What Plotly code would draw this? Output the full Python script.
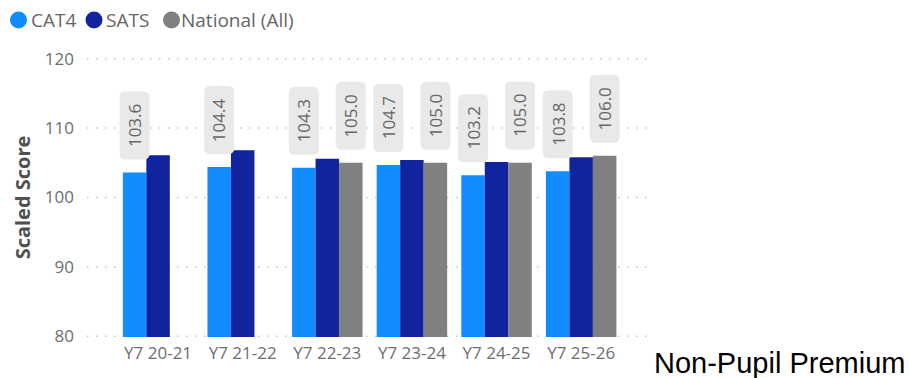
import plotly.graph_objects as go

categories = ["Y7 20-21", "Y7 21-22", "Y7 22-23", "Y7 23-24", "Y7 24-25", "Y7 25-26"]
cat4 = [103.6, 104.4, 104.3, 104.7, 103.2, 103.8]
sats = [106.1, 106.8, 105.6, 105.4, 105.1, 105.8]
national = [None, None, 105.0, 105.0, 105.0, 106.0]
y_ticks = [80, 90, 100, 110, 120]

series_names = ["CAT4", "SATS", "National (All)"]
colors = ["#118DFF", "#12239E", "#808080"]

FONT = "Segoe UI, Open Sans, sans-serif"
W, H = 909, 378
L, R, T, B = 87, 261, 58, 41
PW, PH = W - L - R, H - T - B
XR = [-0.84, 5.79]
YR = [79.9, 120.1]
BARGAP = 0.167

def px_x(px):
    return (px - L) / PW

def px_y(py):
    return (H - B - py) / PH

fig = go.Figure()
for name, vals, col in zip(series_names, [cat4, sats, national], colors):
    fig.add_trace(go.Bar(x=categories, y=vals, name=name, marker_color=col,
                         marker_line_width=0, showlegend=False, hoverinfo="skip"))

annotations = []
shapes = []

# dotted gridlines (including the edge values 80 and 120)
for t in y_ticks:
    shapes.append(dict(type="line", xref="paper", yref="y", x0=0, x1=1, y0=t, y1=t,
                       line=dict(color="#C4C4C4", width=1.5, dash="1.5px,7.5px"),
                       layer="below"))

# data labels (CAT4 and National) in rounded grey boxes
cat_px = PW / (XR[1] - XR[0])
bar_px = cat_px * (1 - BARGAP) / 3
BW, BH, RAD, GAP = 30, 68, 6, 13

def rounded_path(cx):
    x0, x1 = cx - BW / 2, cx + BW / 2
    y0, y1 = GAP, GAP + BH
    r = RAD
    return (f"M{x0 + r},{y0} L{x1 - r},{y0} Q{x1},{y0} {x1},{y0 + r} "
            f"L{x1},{y1 - r} Q{x1},{y1} {x1 - r},{y1} L{x0 + r},{y1} "
            f"Q{x0},{y1} {x0},{y1 - r} L{x0},{y0 + r} Q{x0},{y0} {x0 + r},{y0} Z")

for vals, shift in [(cat4, -bar_px), (national, bar_px)]:
    for c, v in zip(categories, vals):
        if v is None:
            continue
        shapes.append(dict(type="path", xref="x", yref="y", xsizemode="pixel",
                           ysizemode="pixel", xanchor=c, yanchor=v,
                           path=rounded_path(shift), fillcolor="#E9E9E9",
                           line_width=0, layer="above"))
        annotations.append(dict(
            x=c, y=v, xref="x", yref="y", text=f"{v:.1f}", showarrow=False,
            textangle=-90, xanchor="center", yanchor="middle",
            xshift=shift, yshift=GAP + BH / 2,
            font=dict(family=FONT, size=17, color="#666666")))

# legend
leg = [("CAT4", 18.5, 29), ("SATS", 94, 104), ("National (All)", 171.5, 179)]
for (txt, cx, tx), col in zip(leg, colors):
    shapes.append(dict(type="circle", xref="paper", yref="paper",
                       xsizemode="pixel", ysizemode="pixel",
                       xanchor=px_x(cx), yanchor=px_y(20),
                       x0=-8.5, x1=8.5, y0=-8.5, y1=8.5,
                       fillcolor=col, line_width=0))
    annotations.append(dict(x=px_x(tx), y=px_y(20), xref="paper", yref="paper",
                            text=txt, showarrow=False, xanchor="left", yanchor="middle",
                            font=dict(family=FONT, size=19, color="#666666")))

annotations.append(dict(x=px_x(652), y=px_y(363), xref="paper", yref="paper",
                        text="Non-Pupil Premium", showarrow=False,
                        xanchor="left", yanchor="middle",
                        font=dict(family="Arial, Liberation Sans", size=29, color="#000000")))

fig.update_layout(
    width=W, height=H, margin=dict(l=L, r=R, t=T, b=B),
    paper_bgcolor="white", plot_bgcolor="white",
    barmode="group", bargap=BARGAP, bargroupgap=0,
    annotations=annotations, shapes=shapes, showlegend=False,
    xaxis=dict(type="category", range=XR, showgrid=False, showline=False, zeroline=False,
               ticks="", tickfont=dict(family=FONT, size=17, color="#6E6E6E"),
               ticklabelstandoff=4),
    yaxis=dict(range=YR, tickvals=y_ticks, showgrid=False, zeroline=False, showline=False,
               ticks="", tickfont=dict(family=FONT, size=17, color="#6E6E6E"),
               ticklabelstandoff=12,
               title=dict(text="<b>Scaled Score</b>", standoff=8,
                          font=dict(family=FONT, size=20, color="#505050"))),
)

fig.write_html("out.html")
